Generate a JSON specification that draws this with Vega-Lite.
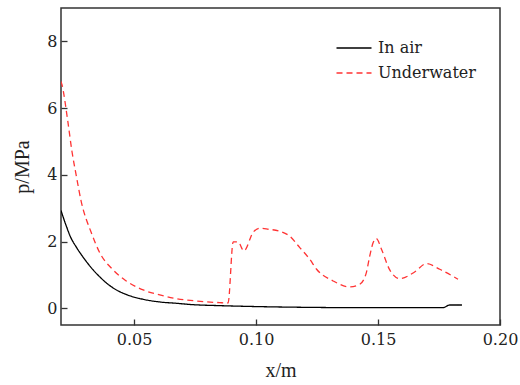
{
  "$schema": "https://vega.github.io/schema/vega-lite/v6.json",
  "width": 439,
  "height": 317,
  "autosize": {"type": "none"},
  "padding": {"left": 61, "top": 8, "right": 20, "bottom": 60},
  "background": "white",
  "config": {
    "font": "serif",
    "view": {"stroke": "#333333", "strokeWidth": 1.5},
    "axis": {
      "labelFont": "DejaVu Serif",
      "titleFont": "serif",
      "labelFontSize": 16,
      "titleFontSize": 20,
      "titleFontWeight": "normal",
      "labelColor": "#222222",
      "titleColor": "#222222",
      "tickColor": "#333333",
      "tickWidth": 1.3,
      "grid": false,
      "domain": false
    },
    "legend": {
      "labelFont": "DejaVu Serif"
    }
  },
  "data": {
    "values": [
      {"series": "In air", "x": 0.0200, "p": 2.93},
      {"series": "In air", "x": 0.0220, "p": 2.50},
      {"series": "In air", "x": 0.0239, "p": 2.14},
      {"series": "In air", "x": 0.0264, "p": 1.82},
      {"series": "In air", "x": 0.0300, "p": 1.44},
      {"series": "In air", "x": 0.0332, "p": 1.15},
      {"series": "In air", "x": 0.0365, "p": 0.90},
      {"series": "In air", "x": 0.0400, "p": 0.68},
      {"series": "In air", "x": 0.0435, "p": 0.52},
      {"series": "In air", "x": 0.0469, "p": 0.41},
      {"series": "In air", "x": 0.0537, "p": 0.27},
      {"series": "In air", "x": 0.0605, "p": 0.19},
      {"series": "In air", "x": 0.0674, "p": 0.15},
      {"series": "In air", "x": 0.0740, "p": 0.11},
      {"series": "In air", "x": 0.0851, "p": 0.08},
      {"series": "In air", "x": 0.1015, "p": 0.05},
      {"series": "In air", "x": 0.1200, "p": 0.03},
      {"series": "In air", "x": 0.1400, "p": 0.02},
      {"series": "In air", "x": 0.1767, "p": 0.02},
      {"series": "In air", "x": 0.1794, "p": 0.10},
      {"series": "In air", "x": 0.1844, "p": 0.10},
      {"series": "Underwater", "x": 0.0200, "p": 6.80},
      {"series": "Underwater", "x": 0.0204, "p": 6.70},
      {"series": "Underwater", "x": 0.0228, "p": 5.60},
      {"series": "Underwater", "x": 0.0245, "p": 4.70},
      {"series": "Underwater", "x": 0.0262, "p": 4.00},
      {"series": "Underwater", "x": 0.0283, "p": 3.20},
      {"series": "Underwater", "x": 0.0324, "p": 2.27},
      {"series": "Underwater", "x": 0.0360, "p": 1.65},
      {"series": "Underwater", "x": 0.0414, "p": 1.15},
      {"series": "Underwater", "x": 0.0462, "p": 0.85},
      {"series": "Underwater", "x": 0.0537, "p": 0.55},
      {"series": "Underwater", "x": 0.0605, "p": 0.40},
      {"series": "Underwater", "x": 0.0674, "p": 0.29},
      {"series": "Underwater", "x": 0.0756, "p": 0.22},
      {"series": "Underwater", "x": 0.0851, "p": 0.17},
      {"series": "Underwater", "x": 0.0885, "p": 0.16},
      {"series": "Underwater", "x": 0.0906, "p": 1.99},
      {"series": "Underwater", "x": 0.0926, "p": 1.99},
      {"series": "Underwater", "x": 0.0950, "p": 1.72},
      {"series": "Underwater", "x": 0.0988, "p": 2.28},
      {"series": "Underwater", "x": 0.1015, "p": 2.40},
      {"series": "Underwater", "x": 0.1050, "p": 2.37},
      {"series": "Underwater", "x": 0.1097, "p": 2.31},
      {"series": "Underwater", "x": 0.1138, "p": 2.16},
      {"series": "Underwater", "x": 0.1179, "p": 1.82},
      {"series": "Underwater", "x": 0.1220, "p": 1.47},
      {"series": "Underwater", "x": 0.1248, "p": 1.17},
      {"series": "Underwater", "x": 0.1316, "p": 0.82},
      {"series": "Underwater", "x": 0.1384, "p": 0.64},
      {"series": "Underwater", "x": 0.1425, "p": 0.72},
      {"series": "Underwater", "x": 0.1452, "p": 1.07},
      {"series": "Underwater", "x": 0.1466, "p": 1.57},
      {"series": "Underwater", "x": 0.1480, "p": 1.97},
      {"series": "Underwater", "x": 0.1493, "p": 2.09},
      {"series": "Underwater", "x": 0.1514, "p": 1.77},
      {"series": "Underwater", "x": 0.1548, "p": 1.15},
      {"series": "Underwater", "x": 0.1589, "p": 0.89},
      {"series": "Underwater", "x": 0.1650, "p": 1.09},
      {"series": "Underwater", "x": 0.1698, "p": 1.34},
      {"series": "Underwater", "x": 0.1753, "p": 1.17},
      {"series": "Underwater", "x": 0.1828, "p": 0.87}
    ]
  },
  "mark": {"type": "line", "strokeWidth": 1.3, "clip": true, "interpolate": "monotone"},
  "encoding": {
    "x": {
      "field": "x",
      "type": "quantitative",
      "scale": {"domain": [0.02, 0.2], "nice": false, "zero": false},
      "axis": {
        "title": "x/m",
        "values": [0.05, 0.1, 0.15, 0.2],
        "format": ".2f",
        "tickSize": -6,
        "labelPadding": 12,
        "labelFlush": false,
        "titlePadding": 13
      }
    },
    "y": {
      "field": "p",
      "type": "quantitative",
      "scale": {"domain": [-0.5, 9], "nice": false, "zero": false},
      "axis": {
        "title": "p/MPa",
        "values": [0, 2, 4, 6, 8],
        "format": "d",
        "tickSize": -6,
        "labelPadding": 10,
        "labelFlush": false,
        "titlePadding": 14
      }
    },
    "color": {
      "field": "series",
      "type": "nominal",
      "scale": {"domain": ["In air", "Underwater"], "range": ["#000000", "#ff3333"]},
      "legend": {
        "title": null,
        "orient": "none",
        "legendX": 285,
        "legendY": 32,
        "symbolType": "M-3.5,0H3.5",
        "symbolSize": 100,
        "symbolStrokeWidth": 1.3,
        "labelFont": "DejaVu Serif",
        "labelFontSize": 16,
        "labelColor": "#222222",
        "labelOffset": 16,
        "rowPadding": 9
      }
    },
    "strokeDash": {
      "field": "series",
      "type": "nominal",
      "scale": {"domain": ["In air", "Underwater"], "range": [[1, 0], [6, 4]]},
      "legend": {
        "title": null,
        "orient": "none",
        "legendX": 285,
        "legendY": 32,
        "symbolType": "M-3.5,0H3.5",
        "symbolSize": 100,
        "symbolStrokeWidth": 1.3,
        "labelFont": "DejaVu Serif",
        "labelFontSize": 16,
        "labelColor": "#222222",
        "labelOffset": 16,
        "rowPadding": 9
      }
    }
  }
}
